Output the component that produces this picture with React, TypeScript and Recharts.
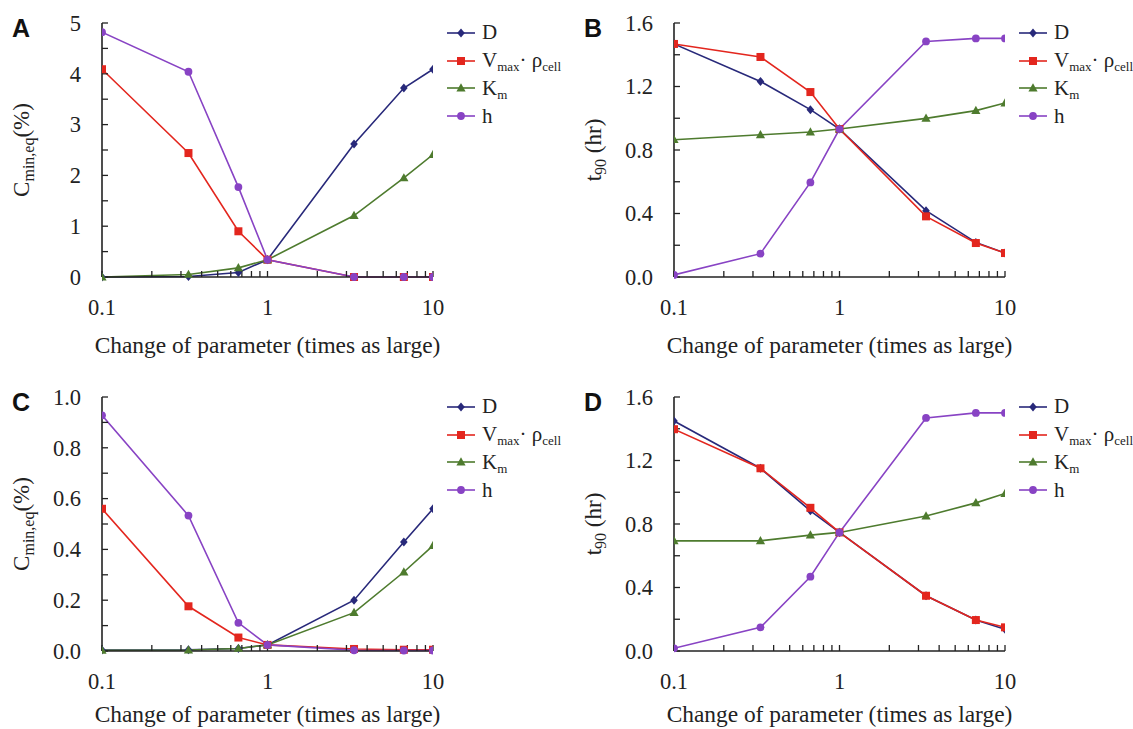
import { Label, Legend, Line, LineChart, XAxis, YAxis } from "recharts";

// x positions (times as large), shared by all four panels
const xValues = [0.1, 0.333, 0.667, 1, 3.333, 6.667, 10];
const xTicks = [0.1, 0.2, 0.3, 0.4, 0.5, 0.6, 0.7, 0.8, 0.9, 1, 2, 3, 4, 5, 6, 7, 8, 9, 10];
const xLabels = [0.1, 1, 10];

// Panel A: C_min,eq (%)
const aD = [0, 0.01, 0.09, 0.34, 2.62, 3.72, 4.09];
const aV = [4.09, 2.44, 0.9, 0.34, 0, 0, 0];
const aK = [0, 0.05, 0.18, 0.34, 1.21, 1.95, 2.41];
const aH = [4.82, 4.04, 1.77, 0.34, 0, 0, 0];

// Panel B: t90 (hr)
const bD = [1.468, 1.232, 1.054, 0.932, 0.418, 0.218, 0.151];
const bV = [1.468, 1.386, 1.165, 0.932, 0.382, 0.214, 0.151];
const bK = [0.865, 0.896, 0.913, 0.932, 0.999, 1.048, 1.096];
const bH = [0.013, 0.147, 0.596, 0.932, 1.484, 1.503, 1.503];

// Panel C: C_min,eq (%)
const cD = [0.004, 0.005, 0.01, 0.024, 0.2, 0.429, 0.56];
const cV = [0.56, 0.176, 0.053, 0.024, 0.008, 0.005, 0.005];
const cK = [0.003, 0.004, 0.01, 0.024, 0.151, 0.311, 0.415];
const cH = [0.928, 0.533, 0.111, 0.024, 0.003, 0.002, 0.002];

// Panel D: t90 (hr)
const dD = [1.449, 1.151, 0.883, 0.747, 0.348, 0.195, 0.137];
const dV = [1.397, 1.151, 0.902, 0.747, 0.348, 0.195, 0.149];
const dK = [0.694, 0.694, 0.73, 0.747, 0.85, 0.933, 0.992];
const dH = [0.017, 0.149, 0.468, 0.747, 1.468, 1.5, 1.5];

const cminTicks = [0, 0.5, 1, 1.5, 2, 2.5, 3, 3.5, 4, 4.5, 5];
const cminLabels = [0, 1, 2, 3, 4, 5];
const cminSmallTicks = [0, 0.1, 0.2, 0.3, 0.4, 0.5, 0.6, 0.7, 0.8, 0.9, 1];
const cminSmallLabels = [0, 0.2, 0.4, 0.6, 0.8, 1];
const t90Ticks = [0, 0.2, 0.4, 0.6, 0.8, 1, 1.2, 1.4, 1.6];
const t90Labels = [0, 0.4, 0.8, 1.2, 1.6];

const SERIF = "Liberation Serif, Times New Roman, Times, DejaVu Serif, serif";
const NAVY = "#28297a";
const RED = "#e3261e";
const GREEN = "#4e7b2e";
const PURPLE = "#8843c4";

const W = 560;
const H = 360;

const marker = (kind: string, color: string, cx: number, cy: number, key?: any) => {
  if (kind === "diamond")
    return <path key={key} d={`M${cx},${cy - 4.5}L${cx + 3.8},${cy}L${cx},${cy + 4.5}L${cx - 3.8},${cy}Z`} fill={color} />;
  if (kind === "square")
    return <rect key={key} x={cx - 4} y={cy - 4} width={8} height={8} fill={color} />;
  if (kind === "triangle")
    return <path key={key} d={`M${cx},${cy - 4.8}L${cx + 4.6},${cy + 3.4}L${cx - 4.6},${cy + 3.4}Z`} fill={color} />;
  return <circle key={key} cx={cx} cy={cy} r={3.9} fill={color} />;
};

const sub = { fontSize: 13, position: "relative" as const, top: 4 };

const series = [
  { key: "D", color: NAVY, kind: "diamond", label: <>D</> },
  {
    key: "V",
    color: RED,
    kind: "square",
    label: (
      <>
        V<span style={sub}>max</span>·&nbsp;ρ<span style={sub}>cell</span>
      </>
    )
  },
  {
    key: "K",
    color: GREEN,
    kind: "triangle",
    label: (
      <>
        K<span style={sub}>m</span>
      </>
    )
  },
  { key: "h", color: PURPLE, kind: "circle", label: <>h</> }
];

const LegendBox = () => (
  <div style={{ fontFamily: SERIF, fontSize: 21, color: "#222" }}>
    {series.map((s) => (
      <div key={s.key} style={{ display: "flex", alignItems: "center", height: 27.8, whiteSpace: "nowrap" }}>
        <svg width={28} height={12} style={{ overflow: "visible" }}>
          <line x1={0} y1={6} x2={28} y2={6} stroke={s.color} strokeWidth={1.6} />
          {marker(s.kind, s.color, 14, 6)}
        </svg>
        <span style={{ marginLeft: 7 }}>{s.label}</span>
      </div>
    ))}
  </div>
);

const fmt = (v: number, digits: number) => (digits ? v.toFixed(digits) : String(v));

interface PanelProps {
  letter: string;
  left: number;
  top: number;
  d: number[];
  v: number[];
  k: number[];
  h: number[];
  yMax: number;
  yTicks: number[];
  yLabels: number[];
  digits: number;
  title: "cmin" | "t90";
  titleDy: number;
}

const Panel = ({ letter, left, top, d, v, k, h, yMax, yTicks, yLabels, digits, title, titleDy }: PanelProps) => {
  const data = xValues.map((x, i) => ({ x, D: d[i], V: v[i], K: k[i], h: h[i] }));

  const XTick = (p: any) =>
    xLabels.includes(p.payload.value) ? (
      <text x={p.x} y={p.y} dy="0.71em" textAnchor="middle" style={{ fontFamily: SERIF }} fontSize={22.5} fill="#222">
        {p.payload.value}
      </text>
    ) : (
      <g />
    );

  const YTick = (p: any) =>
    yLabels.includes(p.payload.value) ? (
      <text x={p.x} y={p.y} dy="0.35em" textAnchor="end" style={{ fontFamily: SERIF }} fontSize={22.5} fill="#222">
        {fmt(p.payload.value, digits)}
      </text>
    ) : (
      <g />
    );

  const YTitle = (p: any) => {
    const vb = p.viewBox;
    const cx = vb.x - 33;
    const cy = vb.y + vb.height / 2;
    return (
      <text
        x={cx}
        y={cy}
        transform={`rotate(-90 ${cx} ${cy})`}
        textAnchor="middle"
        style={{ fontFamily: SERIF }}
        fontSize={23}
        fill="#222"
      >
        {title === "cmin" ? (
          <>
            C<tspan dy={5} fontSize={16}>min,eq</tspan>
            <tspan dy={-5}>(%)</tspan>
          </>
        ) : (
          <>
            t<tspan dy={5} fontSize={16}>90</tspan>
            <tspan dy={-5}> (hr)</tspan>
          </>
        )}
      </text>
    );
  };

  const XTitle = (p: any) => {
    const vb = p.viewBox;
    return (
      <text
        x={vb.x + vb.width / 2}
        y={vb.y + titleDy}
        textAnchor="middle"
        style={{ fontFamily: SERIF }}
        fontSize={23.4}
        fill="#222"
      >
        Change of parameter (times as large)
      </text>
    );
  };

  const axisLine = { stroke: "#222", strokeWidth: 1.6 };
  const tickLine = { stroke: "#222", strokeWidth: 1.3 };

  return (
    <div style={{ position: "absolute", left, top, width: W, height: H }}>
      <div
        style={{
          position: "absolute",
          left: 12,
          top: 14,
          fontFamily: "Liberation Sans, Arial, sans-serif",
          fontWeight: 700,
          fontSize: 25,
          color: "#111"
        }}
      >
        {letter}
      </div>
      <LineChart width={W} height={H} data={data} margin={{ top: 23, right: 127, bottom: 53, left: 62 }}>
        <XAxis
          dataKey="x"
          type="number"
          scale="log"
          domain={[0.1, 10]}
          allowDataOverflow
          ticks={xTicks}
          interval={0}
          height={30}
          tickSize={-6}
          tickMargin={28}
          axisLine={axisLine}
          tickLine={tickLine}
          tick={XTick}
        >
          <Label content={XTitle} />
        </XAxis>
        <XAxis
          xAxisId="top"
          orientation="top"
          dataKey="x"
          type="number"
          scale="log"
          domain={[0.1, 10]}
          allowDataOverflow
          height={0}
          tick={false}
          tickLine={false}
          axisLine={axisLine}
        />
        <YAxis
          type="number"
          domain={[0, yMax]}
          ticks={yTicks}
          interval={0}
          width={40}
          tickSize={-6}
          tickMargin={27}
          axisLine={axisLine}
          tickLine={tickLine}
          tick={YTick}
        >
          <Label content={YTitle} />
        </YAxis>
        <YAxis
          yAxisId="right"
          orientation="right"
          type="number"
          domain={[0, yMax]}
          width={0}
          tick={false}
          tickLine={false}
          axisLine={axisLine}
        />
        <Legend
          layout="vertical"
          align="center"
          verticalAlign="middle"
          content={LegendBox}
          wrapperStyle={{ left: 447, top: 19, width: "auto", height: "auto" }}
        />
        {series.map((s) => (
          <Line
            key={s.key}
            dataKey={s.key}
            stroke={s.color}
            strokeWidth={1.6}
            isAnimationActive={false}
            dot={(p: any) => marker(s.kind, s.color, p.cx, p.cy, p.index)}
            activeDot={false}
          />
        ))}
      </LineChart>
    </div>
  );
};

export default function App() {
  return (
    <div
      style={{ position: "absolute", left: 0, top: 0, width: 1133, height: 729, overflow: "hidden", background: "#fff" }}
    >
      <Panel letter="A" left={0} top={0} d={aD} v={aV} k={aK} h={aH} yMax={5} yTicks={cminTicks} yLabels={cminLabels} digits={0} title="cmin" titleDy={76} />
      <Panel letter="B" left={572} top={0} d={bD} v={bV} k={bK} h={bH} yMax={1.6} yTicks={t90Ticks} yLabels={t90Labels} digits={1} title="t90" titleDy={76} />
      <Panel letter="C" left={0} top={374} d={cD} v={cV} k={cK} h={cH} yMax={1} yTicks={cminSmallTicks} yLabels={cminSmallLabels} digits={1} title="cmin" titleDy={71} />
      <Panel letter="D" left={572} top={374} d={dD} v={dV} k={dK} h={dH} yMax={1.6} yTicks={t90Ticks} yLabels={t90Labels} digits={1} title="t90" titleDy={71} />
    </div>
  );
}
